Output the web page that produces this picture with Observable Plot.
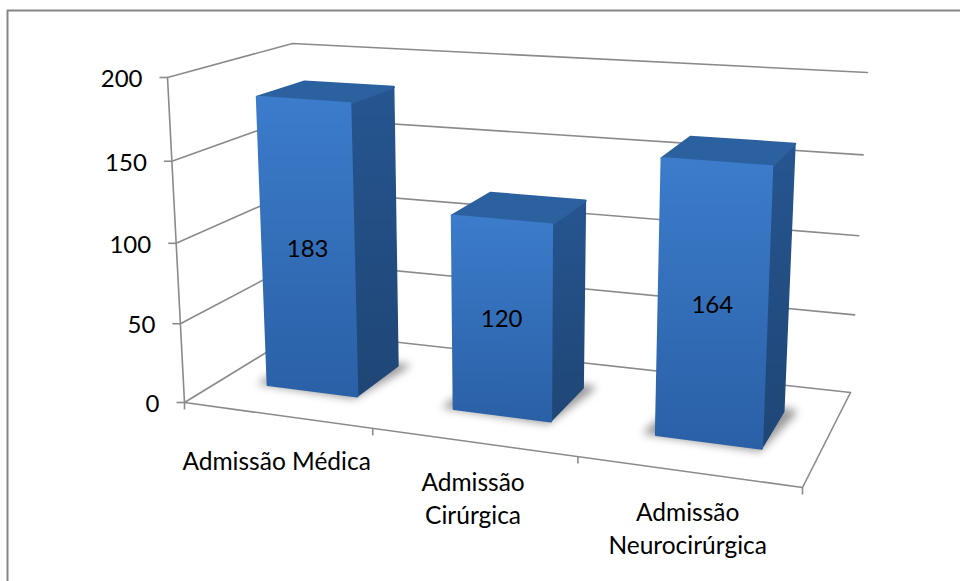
<!DOCTYPE html>
<html>
<head>
<meta charset="utf-8">
<script src="https://cdn.jsdelivr.net/npm/d3@7"></script>
<script src="https://cdn.jsdelivr.net/npm/@observablehq/plot@0.6"></script>
<style>
  html, body { margin: 0; padding: 0; background: #fff; }
  svg { display: block; }
</style>
</head>
<body>
<div id="chart"></div>
<script>
// Admissions by type
const categoryLines = [["Admissão Médica"], ["Admissão", "Cirúrgica"], ["Admissão", "Neurocirúrgica"]];
const admissions = [183, 120, 164];
const valueTicks = [0, 50, 100, 150, 200];
const valueMax = 200;

// Box corners on the page and their perspective weights, indexed [u][d][v]:
// u runs along the category axis, d into the depth, v up the value axis.
const corners = [
  [[[184, 402, 1], [167, 77, 0.96]], [[300, 331, 1.15], [292, 43, 1.11]]],
  [[[802, 487, 0.876], [817, 122, 0.836]], [[850, 392, 1.026], [867, 72, 0.986]]]
];

function project(u, d, v) {
  const t = v / valueMax;
  let X = 0, Y = 0, W = 0;
  for (const [i, bu] of [[0, 1 - u], [1, u]])
    for (const [j, bd] of [[0, 1 - d], [1, d]])
      for (const [k, bv] of [[0, 1 - t], [1, t]]) {
        const [cx, cy, cw] = corners[i][j][k];
        const b = bu * bd * bv;
        X += b * cx * cw;
        Y += b * cy * cw;
        W += b * cw;
      }
  return [X / W, Y / W];
}
const px = (p) => project(p.u, p.d, p.v)[0];
const py = (p) => project(p.u, p.d, p.v)[1];

// Share of each category slot and of the depth taken up by a bar
const barGapU = 0.255, barD0 = 0.3, barD1 = 0.7;
const slot = 1 / categoryLines.length;

const faces = { front: [], side: [], top: [], shadow: [] };
admissions.forEach((value, i) => {
  const u0 = (i + barGapU) * slot, u1 = (i + 1 - barGapU) * slot;
  const add = (list, key, pts) => pts.forEach(([u, d, v]) => list.push({ key, u, d, v }));
  add(faces.front, i, [[u0, barD0, 0], [u1, barD0, 0], [u1, barD0, value], [u0, barD0, value], [u0, barD0, 0]]);
  add(faces.side, i, [[u1, barD0, 0], [u1, barD1, 0], [u1, barD1, value], [u1, barD0, value], [u1, barD0, 0]]);
  add(faces.top, i, [[u0, barD0, value], [u1, barD0, value], [u1, barD1, value], [u0, barD1, value], [u0, barD0, value]]);
  // Soft contact shadow on the floor, wider than the bar's footprint
  const s = 0.02;
  add(faces.shadow, i, [[u0 - s, barD0 + 0.06, 0], [u0 - s, barD0 - 0.005, 0], [u1, barD0 - 0.03, 0], [u1 + s, barD1 - 0.02, 0], [u1 + s * 0.8, barD1 + 0.04, 0], [u0, barD1, 0], [u0 - s, barD0 + 0.06, 0]]);
});

// Walls and floor lines
const gridLines = [];
valueTicks.forEach((v) => {
  gridLines.push({ key: `g${v}`, u: 0, d: 0, v }, { key: `g${v}`, u: 0, d: 1, v }, { key: `g${v}`, u: 1, d: 1, v });
});
[[[0, 0, 0], [0, 0, valueMax]], [[0, 0, 0], [1, 0, 0]], [[1, 0, 0], [1, 1, 0]]].forEach((seg, i) =>
  seg.forEach(([u, d, v]) => gridLines.push({ key: `a${i}`, u, d, v }))
);

const valueLabels = valueTicks.map((v) => ({ u: 0, d: 0, v }));
const axisTicks = d3.range(0, categoryLines.length + 1).map((i) => ({ u: i * slot, d: 0, v: 0 }));
const barLabels = admissions.map((value, i) => ({
  u: (i + 0.5) * slot, d: barD0, v: value / 2, value
}));
const categoryLabels = categoryLines.flatMap((lines, i) =>
  lines.map((text, n) => ({ u: (i + 0.5) * slot, d: 0, v: 0, text, n, count: lines.length }))
);

const font = "Lato, Carlito, Calibri, sans-serif";
const axisGray = "#8a8a8a";
const frameGray = "#868686";

const chart = Plot.plot({
  width: 960,
  height: 581,
  margin: 0,
  x: { domain: [0, 960], range: [0, 960], axis: null },
  y: { domain: [0, 581], range: [0, 581], axis: null },
  style: { background: "#fff", fontFamily: font },
  marks: [
    Plot.ruleX([7], { y1: 10, y2: 581, stroke: frameGray, strokeWidth: 2 }),
    Plot.ruleY([10], { x1: 7, x2: 960, stroke: frameGray, strokeWidth: 2 }),
    Plot.line(gridLines, { x: px, y: py, z: "key", stroke: axisGray, strokeWidth: 1.6 }),
    Plot.link(valueLabels, { x1: (p) => px(p) - 8, x2: px, y1: py, y2: py, stroke: axisGray, strokeWidth: 1.6 }),
    Plot.link(axisTicks, { x1: px, x2: px, y1: py, y2: (p) => py(p) + 7, stroke: axisGray, strokeWidth: 1.6 }),
    Plot.line(faces.shadow, { x: px, y: py, z: "key", fill: "#999", stroke: "none", imageFilter: "blur(4px)" }),
    Plot.line(faces.side, { x: px, y: py, z: "key", fill: "url(#sideFill)", stroke: "url(#sideFill)", strokeWidth: 1.5, strokeLinejoin: "round" }),
    Plot.line(faces.top, { x: px, y: py, z: "key", fill: "#2c619f", stroke: "#2c619f", strokeWidth: 2.5, strokeLinejoin: "round" }),
    Plot.line(faces.front, { x: px, y: py, z: "key", fill: "url(#frontFill)", stroke: "url(#frontFill)", strokeWidth: 2.5, strokeLinejoin: "round" }),
    Plot.text(valueLabels, {
      x: (p) => px(p) - 25, y: (p) => py(p) + 2, text: (p) => String(p.v),
      textAnchor: "end", fontSize: 24, fill: "#000"
    }),
    Plot.text(barLabels, { x: px, y: (p) => py(p) + 1, text: (p) => String(p.value), fontSize: 24, fill: "#000" }),
    Plot.text(categoryLabels, {
      x: px,
      y: (p) => py(p) + (p.count === 1 ? 47 : 41) + p.n * 33,
      text: "text", fontSize: 24.5, fill: "#000"
    })
  ]
});

// Vertical shading of the bar faces
const svgNS = "http://www.w3.org/2000/svg";
const defs = document.createElementNS(svgNS, "defs");
[["frontFill", "#3c7ccb", "#2a60a6"], ["sideFill", "#265590", "#1f4675"]].forEach(([id, a, b]) => {
  const g = document.createElementNS(svgNS, "linearGradient");
  g.setAttribute("id", id);
  g.setAttribute("x1", 0); g.setAttribute("x2", 0); g.setAttribute("y1", 0); g.setAttribute("y2", 1);
  [[0, a], [1, b]].forEach(([o, c]) => {
    const s = document.createElementNS(svgNS, "stop");
    s.setAttribute("offset", o); s.setAttribute("stop-color", c);
    g.appendChild(s);
  });
  defs.appendChild(g);
});
chart.insertBefore(defs, chart.firstChild);
document.getElementById("chart").appendChild(chart);
</script>
</body>
</html>
